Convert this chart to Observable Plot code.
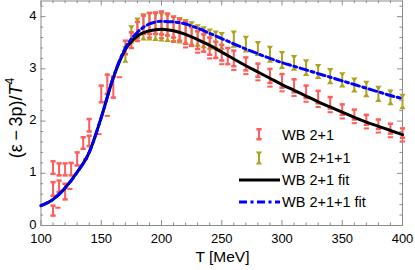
<!DOCTYPE html>
<html><head><meta charset="utf-8">
<script src="https://cdn.jsdelivr.net/npm/d3@7"></script>
<script src="https://cdn.jsdelivr.net/npm/@observablehq/plot@0.6"></script>
<style>
body{margin:0;background:#fff;}
#wrap{position:relative;width:415px;height:270px;font-family:"Liberation Sans",Arial,sans-serif;}
#wrap svg{display:block;}
#legend{position:absolute;left:0;top:0;pointer-events:none;}
</style></head><body><div id="wrap"></div>
<script>
// ---- data ----
const redT  = [110,110,110,115,115,120,120,125,130,135,140,140,150,155,160,170,175,180,185,190,195,200,205,210,215,220,225,230,235,240,245,250,255,260,270,280,290,300,310,320,330,340,350,360,370,380,390,400];
const redLo = [0.99,0.57,0.19,0.96,0.64,0.96,0.50,0.96,1.15,1.47,1.52,1.80,2.36,2.52,2.45,3.28,3.40,3.60,3.67,3.67,3.67,3.66,3.64,3.60,3.54,3.48,3.44,3.38,3.33,3.27,3.21,3.16,3.09,3.05,2.97,2.85,2.73,2.64,2.55,2.44,2.34,2.24,2.12,2.03,1.93,1.85,1.76,1.68];
const redHi = [1.23,0.83,0.38,1.19,0.86,1.19,0.80,1.20,1.40,1.69,1.72,2.04,2.68,2.89,2.85,3.54,3.70,3.90,4.02,4.07,4.08,4.10,4.06,4.00,3.95,3.90,3.80,3.72,3.66,3.60,3.52,3.46,3.40,3.35,3.22,3.10,3.00,2.90,2.80,2.68,2.58,2.46,2.32,2.22,2.12,2.03,1.95,1.86];
const redDashT = [114,124,137,148,155,165,180,190,200,210,220,230,240,250,260,270,280,290,300,310,320,330,340,350,360,370,380,390,400];
const redDashV = [0.34,0.70,1.27,1.75,2.10,2.84,3.53,3.60,3.59,3.53,3.41,3.31,3.20,3.09,2.98,2.90,2.78,2.66,2.57,2.48,2.37,2.27,2.17,2.05,1.96,1.86,1.78,1.69,1.61];
const oliveT  = [170,175,180,185,190,195,200,205,210,215,220,225,230,235,240,245,250,260,270,280,290,300,310,320,330,340,350,360,370,380,390,400];
const oliveLo = [3.15,3.52,3.55,3.58,3.58,3.57,3.56,3.55,3.53,3.52,3.50,3.48,3.46,3.43,3.40,3.42,3.40,3.44,3.35,3.28,3.15,3.03,3.00,2.90,2.84,2.74,2.68,2.58,2.49,2.40,2.34,2.26];
const oliveHi = [3.40,3.80,3.95,4.03,4.06,4.05,4.05,4.03,3.99,3.96,3.92,3.88,3.82,3.78,3.74,3.70,3.67,3.70,3.60,3.50,3.41,3.31,3.23,3.15,3.06,2.98,2.90,2.80,2.74,2.64,2.57,2.49];
const fitT   = [100,110,120,130,140,150,160,170,180,190,200,210,220,230,240,250,260,270,280,290,300,310,320,330,340,350,360,370,380,390,400];
const fit21  = [0.38,0.50,0.72,1.02,1.40,2.07,2.83,3.37,3.63,3.73,3.76,3.73,3.66,3.56,3.45,3.32,3.19,3.06,2.94,2.82,2.70,2.59,2.48,2.37,2.27,2.17,2.07,1.98,1.90,1.82,1.74];
const fit211 = [0.38,0.50,0.72,1.02,1.40,2.07,2.84,3.40,3.70,3.86,3.91,3.90,3.86,3.78,3.68,3.58,3.48,3.38,3.29,3.20,3.12,3.05,2.98,2.91,2.84,2.77,2.70,2.63,2.56,2.49,2.43];
const xTicks = [100,150,200,250,300,350,400];
const yTicks = [0,1,2,3,4];
const legendLabels = ["WB 2+1","WB 2+1+1","WB 2+1 fit","WB 2+1+1 fit"];

// ---- styles ----
const RED = "#ff5c5c", OLIVE = "#aca41c", BLUE = "#0000ff", AX = "#8a8a8a";
const FONT = "'Liberation Sans', Arial, sans-serif";
const DASHDOT = "8,3.5,3,3.5";

const red = redT.map((t,i)=>({t, lo: redLo[i], hi: redHi[i]}));
const dashes = redDashT.map((t,i)=>({t, v: redDashV[i]}));
const olive = oliveT.map((t,i)=>({t, lo: oliveLo[i], hi: oliveHi[i]}));
const fitA = fitT.map((t,i)=>({t, v: fit21[i]}));
const fitB = fitT.map((t,i)=>({t, v: fit211[i]}));

const capRect = {draw(c){c.rect(-2.6,-1.25,5.2,2.5);}};
const dashRect = {draw(c){c.rect(-2.6,-1.0,5.2,2.0);}};
const triDown = {draw(c){c.moveTo(-3.2,-1.8);c.lineTo(3.2,-1.8);c.lineTo(1,1.4);c.lineTo(-1,1.4);c.closePath();}};
const triUp = {draw(c){c.moveTo(-3.2,1.8);c.lineTo(3.2,1.8);c.lineTo(1,-1.4);c.lineTo(-1,-1.4);c.closePath();}};

const W = 415, H = 270, mL = 40.5, mR = 13, mT = 0.5, mB = 45;
const X0 = 100, X1 = 400, Y0 = 0, Y1 = 4.3;
const yPx = (Y1-Y0)/(H-mT-mB), xPx = (X1-X0)/(W-mL-mR);
const xMinor = d3.range(X0, X1+1, 10).filter(v => v % 50 !== 0);
const yMinor = d3.range(0, 43, 2).map(v=>v/10).filter(v => Math.abs(v-Math.round(v))>1e-9);
const MAJ = 5, MIN = 2.6;

const plot = Plot.plot({
  width: W, height: H, marginLeft: mL, marginRight: mR, marginTop: mT, marginBottom: mB,
  x: {domain: [X0, X1]}, y: {domain: [Y0, Y1]},
  style: {fontFamily: FONT, fontSize: "13px", color: "black", background: "white", overflow: "visible"},
  marks: [
    Plot.axisX({ticks: xTicks, tickSize: 0, tickPadding: 8, label: null, tickFormat: d=>String(d)}),
    Plot.axisY({ticks: yTicks, tickSize: 0, tickPadding: 4.5, dy: -1, label: null, tickFormat: d=>String(d)}),
    // inward ticks on all four sides
    Plot.ruleX(xTicks, {x: d=>d, y1: Y0, y2: Y0+MAJ*yPx, stroke: AX}),
    Plot.ruleX(xMinor, {x: d=>d, y1: Y0, y2: Y0+MIN*yPx, stroke: AX}),
    Plot.ruleX(xTicks, {x: d=>d, y1: Y1, y2: Y1-MAJ*yPx, stroke: AX}),
    Plot.ruleX(xMinor, {x: d=>d, y1: Y1, y2: Y1-MIN*yPx, stroke: AX}),
    Plot.ruleY(yTicks, {y: d=>d, x1: X0, x2: X0+MAJ*xPx, stroke: AX}),
    Plot.ruleY(yMinor, {y: d=>d, x1: X0, x2: X0+MIN*xPx, stroke: AX}),
    Plot.ruleY(yTicks, {y: d=>d, x1: X1, x2: X1-MAJ*xPx, stroke: AX}),
    Plot.ruleY(yMinor, {y: d=>d, x1: X1, x2: X1-MIN*xPx, stroke: AX}),
    Plot.frame({stroke: AX}),
    // WB 2+1+1
    Plot.ruleX(olive, {x: "t", y1: "lo", y2: "hi", stroke: OLIVE, strokeWidth: 2}),
    Plot.dot(olive, {x: "t", y: "hi", symbol: triDown, fill: OLIVE, stroke: "none"}),
    Plot.dot(olive, {x: "t", y: "lo", symbol: triUp, fill: OLIVE, stroke: "none"}),
    // WB 2+1
    Plot.ruleX(red, {x: "t", y1: "lo", y2: "hi", stroke: RED, strokeWidth: 2}),
    Plot.dot(red, {x: "t", y: "hi", symbol: capRect, fill: RED, stroke: "none"}),
    Plot.dot(red, {x: "t", y: "lo", symbol: capRect, fill: RED, stroke: "none"}),
    Plot.dot(dashes, {x: "t", y: "v", symbol: dashRect, fill: RED, stroke: "none"}),
    // fits
    Plot.line(fitA, {x: "t", y: "v", curve: "monotone-x", stroke: "black", strokeWidth: 3}),
    Plot.line(fitB, {x: "t", y: "v", curve: "monotone-x", stroke: BLUE, strokeWidth: 3, strokeDasharray: DASHDOT})
  ]
});

const wrap = document.getElementById("wrap");
wrap.appendChild(plot);
const svg = d3.select(plot);

// axis titles
svg.append("text").attr("x", 222.5).attr("y", 262).attr("text-anchor", "middle")
  .attr("font-family", FONT).attr("font-size", 15.5).attr("fill", "black").text("T [MeV]");
const yt = svg.append("text").attr("transform", "translate(22,118) rotate(-90)").attr("text-anchor", "middle")
  .attr("font-family", FONT).attr("font-size", 18).attr("fill", "black");
yt.append("tspan").text("(ε\u2009\u2212\u20093p)/");
yt.append("tspan").attr("font-style", "italic").text("T");
yt.append("tspan").attr("font-size", 12).attr("dy", -8).text("4");

// legend
const lg = d3.select(wrap).append("svg").attr("id", "legend").attr("width", W).attr("height", H);
const ly = [135, 158, 180, 202];
const sx = 259;
// red I
lg.append("line").attr("x1", sx).attr("x2", sx).attr("y1", ly[0]-6).attr("y2", ly[0]+4).attr("stroke", RED).attr("stroke-width", 2);
lg.append("rect").attr("x", sx-2.6).attr("y", ly[0]-7).attr("width", 5.2).attr("height", 2.5).attr("fill", RED);
lg.append("rect").attr("x", sx-2.6).attr("y", ly[0]+3).attr("width", 5.2).attr("height", 2.5).attr("fill", RED);
// olive
lg.append("line").attr("x1", sx).attr("x2", sx).attr("y1", ly[1]-5).attr("y2", ly[1]+5).attr("stroke", OLIVE).attr("stroke-width", 2);
lg.append("path").attr("d", `M${sx-3.2},${ly[1]-6.6}L${sx+3.2},${ly[1]-6.6}L${sx+1},${ly[1]-3.4}L${sx-1},${ly[1]-3.4}Z`).attr("fill", OLIVE);
lg.append("path").attr("d", `M${sx-3.2},${ly[1]+6.6}L${sx+3.2},${ly[1]+6.6}L${sx+1},${ly[1]+3.4}L${sx-1},${ly[1]+3.4}Z`).attr("fill", OLIVE);
// lines
lg.append("line").attr("x1", 239).attr("x2", 280).attr("y1", ly[2]).attr("y2", ly[2]).attr("stroke", "black").attr("stroke-width", 3);
lg.append("line").attr("x1", 239).attr("x2", 280).attr("y1", ly[3]).attr("y2", ly[3]).attr("stroke", BLUE).attr("stroke-width", 3).attr("stroke-dasharray", DASHDOT);
legendLabels.forEach((s,i)=>{
  lg.append("text").attr("x", 282).attr("y", ly[i]+5).attr("font-family", FONT).attr("font-size", 14.5).attr("fill", "black").text(s);
});
</script>
</body></html>
